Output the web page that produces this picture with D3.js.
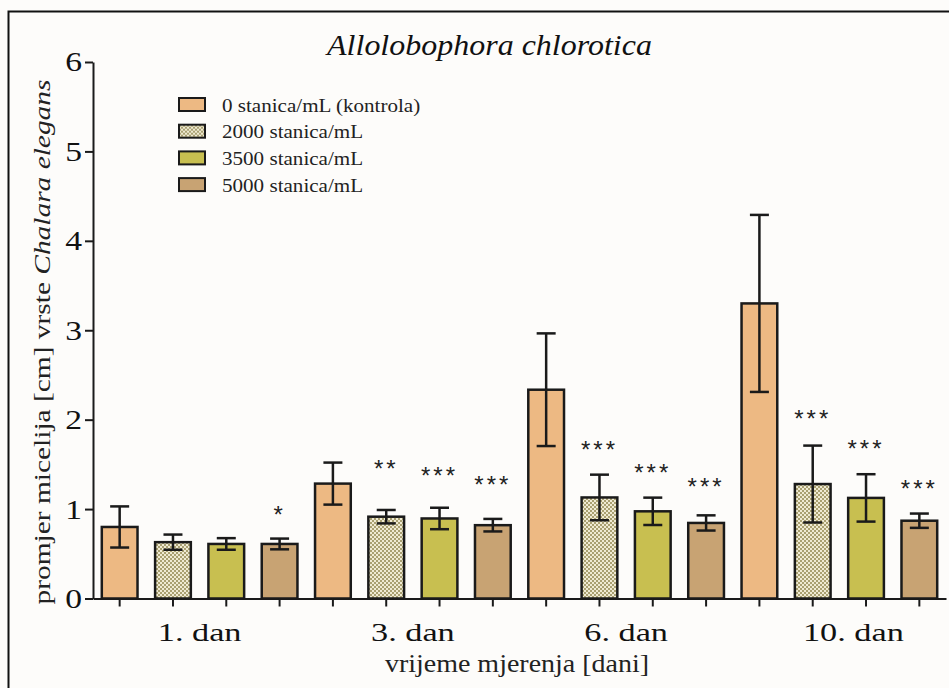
<!DOCTYPE html>
<html>
<head>
<meta charset="utf-8">
<script src="https://cdn.jsdelivr.net/npm/d3@7"></script>
<style>
  body { margin: 0; background: #fdfcfa; }
  svg { display: block; font-family: 'Liberation Serif', serif; }
</style>
</head>
<body>
<svg></svg>
<script>
var days = ["1. dan", "3. dan", "6. dan", "10. dan"];
var series = ["0 stanica/mL (kontrola)", "2000 stanica/mL", "3500 stanica/mL", "5000 stanica/mL"];
// mean values per day, one array per series
var control = [0.80, 1.285, 2.335, 3.30];
var c2000 = [0.63, 0.915, 1.13, 1.28];
var c3500 = [0.61, 0.895, 0.975, 1.125];
var c5000 = [0.61, 0.82, 0.845, 0.87];
// error bar half-lengths
var errControl = [0.23, 0.235, 0.63, 0.99];
var err2000 = [0.085, 0.075, 0.255, 0.43];
var err3500 = [0.065, 0.12, 0.153, 0.265];
var err5000 = [0.06, 0.07, 0.085, 0.08];
// significance marks and the value where they sit
var sigMarks = [["", "", "", "*"], ["", "**", "***", "***"], ["", "***", "***", "***"], ["", "***", "***", "***"]];
var sigLevel = [[0, 0, 0, 0.98], [0, 1.49, 1.415, 1.315], [0, 1.70, 1.45, 1.29], [0, 2.05, 1.72, 1.27]];
var yTicks = [0, 1, 2, 3, 4, 5, 6];

var width = 949, height = 688;
var svg = d3.select("svg").attr("width", width).attr("height", height);

var means = [control, c2000, c3500, c5000];
var errs = [errControl, err2000, err3500, err5000];
var bars = [];
days.forEach(function(day, i) {
  series.forEach(function(s, j) {
    bars.push({ day: day, series: s, j: j, value: means[j][i], err: errs[j][i],
                mark: sigMarks[i][j], markAt: sigLevel[i][j] });
  });
});

var colors = ["#edb983", "url(#checks)", "#c8bf50", "#c8a373"];

// the original lettering is wider than Times: scale it sideways round its anchor
function stretch(sel, k) {
  sel.each(function() {
    var t = d3.select(this);
    var a = +t.attr("x") || 0;
    var pre = t.attr("transform") || "";
    t.attr("transform", pre + " translate(" + a * (1 - k) + ",0) scale(" + k + ",1)");
  });
}

var defs = svg.append("defs");
var pat = defs.append("pattern").attr("id", "checks")
  .attr("width", 4).attr("height", 4).attr("patternUnits", "userSpaceOnUse");
pat.append("rect").attr("width", 4).attr("height", 4).attr("fill", "#efead2");
pat.append("rect").attr("width", 2).attr("height", 2).attr("fill", "#a9a071");
pat.append("rect").attr("x", 2).attr("y", 2).attr("width", 2).attr("height", 2).attr("fill", "#a9a071");

// frame
svg.append("path").attr("d", "M8.5," + height + "V11.5H" + width)
  .attr("fill", "none").attr("stroke", "#111").attr("stroke-width", 2);

var x0 = d3.scaleBand().domain(days).range([93, 946]);
var x1 = d3.scaleBand().domain(series).range([0, x0.bandwidth()])
  .paddingInner(0.33).paddingOuter(0.165);
var y = d3.scaleLinear().domain([0, 6]).range([598.5, 62]);

// title
var title = svg.append("text").text("Allolobophora chlorotica")
  .attr("x", 489.5).attr("y", 55).attr("text-anchor", "middle")
  .attr("fill", "#111")
  .style("font-style", "italic").style("font-size", "30px");
stretch(title, 325 / title.node().getComputedTextLength());

// bars
var bx = d => x0(d.day) + x1(d.series);
svg.append("g").selectAll("rect").data(bars).enter().append("rect")
  .attr("x", bx)
  .attr("y", d => y(d.value))
  .attr("width", x1.bandwidth())
  .attr("height", d => y(0) - y(d.value))
  .attr("fill", d => colors[d.j])
  .attr("stroke", "#1a1a1a").attr("stroke-width", 2.5);

// error bars
var eg = svg.append("g").attr("stroke", "#1a1a1a").attr("stroke-width", 2.5);
var cx = d => bx(d) + x1.bandwidth() / 2;
eg.selectAll(".v").data(bars).enter().append("line")
  .attr("x1", cx).attr("x2", cx)
  .attr("y1", d => y(d.value + d.err)).attr("y2", d => y(d.value - d.err));
eg.selectAll(".t").data(bars).enter().append("line")
  .attr("x1", d => cx(d) - 9.5).attr("x2", d => cx(d) + 9.5)
  .attr("y1", d => y(d.value + d.err)).attr("y2", d => y(d.value + d.err));
eg.selectAll(".b").data(bars).enter().append("line")
  .attr("x1", d => cx(d) - 9.5).attr("x2", d => cx(d) + 9.5)
  .attr("y1", d => y(d.value - d.err)).attr("y2", d => y(d.value - d.err));

// significance stars
svg.append("g").selectAll("text").data(bars.filter(d => d.mark)).enter().append("text")
  .text(d => d.mark)
  .attr("x", cx).attr("y", d => y(d.markAt) + 12)
  .attr("text-anchor", "middle")
  .style("font-family", "'Liberation Sans', Arial, sans-serif")
  .style("font-size", "24px").style("letter-spacing", "3px")
  .attr("fill", "#222");

// y axis
var yAxis = d3.axisLeft(y).tickValues(yTicks).tickFormat(d3.format("d"))
  .tickSize(8).tickSizeOuter(0).tickPadding(3);
var ga = svg.append("g").attr("transform", "translate(93,0)").call(yAxis);
ga.selectAll("text").style("font-size", "28px").attr("fill", "#111")
  .style("font-family", "'Liberation Serif', serif");
stretch(ga.selectAll("text"), 1.2);
ga.selectAll("line, path").attr("stroke", "#1a1a1a").attr("stroke-width", 2);

// x axis
var xAxis = d3.axisBottom(x0).tickSize(0);
var gx = svg.append("g").attr("transform", "translate(0," + y(0) + ")").call(xAxis);
gx.select("path").attr("stroke", "#1a1a1a").attr("stroke-width", 2);
gx.selectAll("text").style("font-size", "25px").attr("fill", "#111")
  .style("font-family", "'Liberation Serif', serif")
  .attr("y", 43).attr("dy", 0)
  .attr("x", (d, i) => i === 3 ? 14 : 0);
stretch(gx.selectAll("text"), 1.37);
svg.append("g").selectAll("line").data(bars).enter().append("line")
  .attr("x1", cx).attr("x2", cx)
  .attr("y1", y(0)).attr("y2", y(0) + 8)
  .attr("stroke", "#1a1a1a").attr("stroke-width", 2);

var xl = svg.append("text").text("vrijeme mjerenja [dani]")
  .attr("x", 517).attr("y", 672).attr("text-anchor", "middle")
  .style("font-size", "25px").attr("fill", "#222");
stretch(xl, 1.12);

var yl = svg.append("text")
  .attr("transform", "translate(50,342) rotate(-90)")
  .attr("text-anchor", "middle")
  .style("font-size", "24px").attr("fill", "#222");
yl.append("tspan").text("promjer micelija [cm] vrste ");
yl.append("tspan").text("Chalara elegans").style("font-style", "italic");
stretch(yl, 525 / yl.node().getComputedTextLength());

// legend
var lg = svg.append("g").attr("transform", "translate(179,98)");
var row = lg.selectAll("g").data(series).enter().append("g")
  .attr("transform", (d, i) => "translate(0," + i * 26.7 + ")");
row.append("rect").attr("width", 26).attr("height", 13)
  .attr("fill", (d, i) => colors[i]).attr("stroke", "#1a1a1a").attr("stroke-width", 2);
var lt = row.append("text").text(d => d).attr("x", 43).attr("y", 13.5)
  .style("font-size", "19px").attr("fill", "#222");
stretch(lt, 1.11);
</script>
</body>
</html>
